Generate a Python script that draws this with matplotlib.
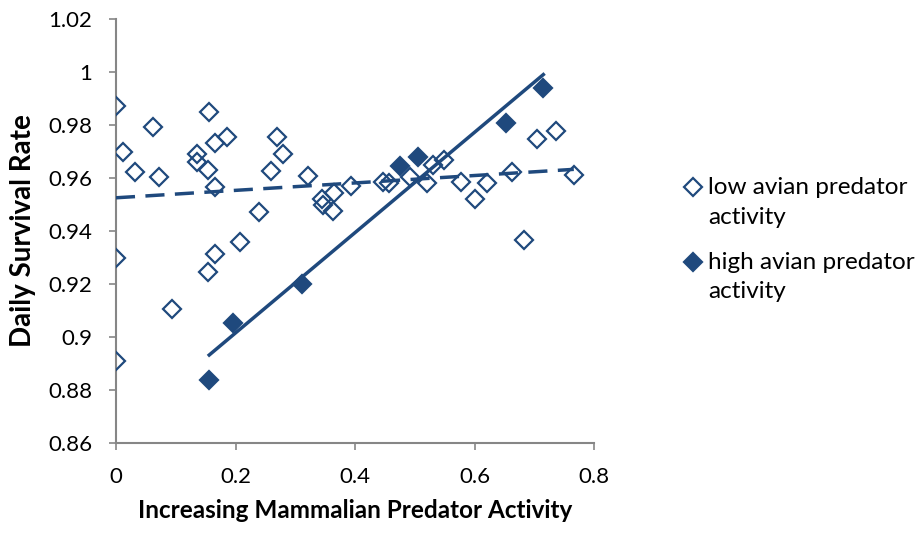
import numpy as np
import matplotlib
matplotlib.use("Agg")
import matplotlib.pyplot as plt

# low avian predator activity (hollow diamonds)
low_x = [0, 0.011, 0.032, 0.062, 0.072, 0.093, 0, 0, 0.135, 0.135,
         0.156, 0.154, 0.166, 0.166, 0.186, 0.154, 0.166, 0.2075, 0.239, 0.259,
         0.269, 0.28, 0.322, 0.344, 0.347, 0.364, 0.363, 0.394, 0.447, 0.456,
         0.492, 0.52, 0.531, 0.548, 0.578, 0.60, 0.62, 0.663, 0.683, 0.704,
         0.736, 0.766]
low_y = [0.987, 0.970, 0.9624, 0.9794, 0.9603, 0.9105, 0.930, 0.891, 0.969, 0.9662,
         0.9848, 0.963, 0.9733, 0.9567, 0.9754, 0.9246, 0.9312, 0.936, 0.947, 0.9628,
         0.9754, 0.969, 0.9609, 0.952, 0.9498, 0.9542, 0.9477, 0.957, 0.9586, 0.958,
         0.9605, 0.958, 0.965, 0.9668, 0.9586, 0.952, 0.958, 0.9624, 0.9366, 0.9746,
         0.9777, 0.9611]

# high avian predator activity (filled diamonds)
high_x = [0.156, 0.196, 0.311, 0.475, 0.506, 0.653, 0.715]
high_y = [0.8838, 0.9052, 0.920, 0.9645, 0.968, 0.9806, 0.9938]

labels = ["low avian predator\nactivity", "high avian predator\nactivity"]
xticks = [0, 0.2, 0.4, 0.6, 0.8]
xtick_labels = ["0", "0.2", "0.4", "0.6", "0.8"]
yticks = [0.86, 0.88, 0.9, 0.92, 0.94, 0.96, 0.98, 1.0, 1.02]
ytick_labels = ["0.86", "0.88", "0.9", "0.92", "0.94", "0.96", "0.98", "1", "1.02"]

blue = "#1F497D"
grey = "#868686"
plt.rcParams['font.family'] = ['Lato', 'DejaVu Sans']

fig = plt.figure(figsize=(9.24, 5.34), dpi=100)
ax = fig.add_axes([0.1255, 0.1704, 0.5175, 0.794])

ax.plot(low_x, low_y, linestyle="none", marker="D", ms=9.3, mfc="none",
        mec=blue, mew=1.6, label=labels[0], zorder=3)
ax.plot(high_x, high_y, linestyle="none", marker="D", ms=9.3, mfc=blue,
        mec=blue, mew=1.6, label=labels[1], zorder=3)

# linear trend lines
a, b = np.polyfit(low_x, low_y, 1)
xx = np.array([min(low_x), max(low_x)])
ax.plot(xx, a * xx + b, color=blue, lw=2.5, dashes=(5.5, 3), zorder=4)
a, b = np.polyfit(high_x, high_y, 1)
xx = np.array([min(high_x), max(high_x)])
ax.plot(xx, a * xx + b, color=blue, lw=2.5, zorder=4)

ax.set_xlim(0, 0.8)
ax.set_ylim(0.86, 1.02)
ax.set_xticks(xticks)
ax.set_xticklabels(xtick_labels)
ax.set_yticks(yticks)
ax.set_yticklabels(ytick_labels)
ax.tick_params(direction="out", length=5, width=1.2, color=grey,
               labelsize=16)
ax.tick_params(axis="x", pad=12)
ax.tick_params(axis="y", pad=12)
for s in ["top", "right"]:
    ax.spines[s].set_visible(False)
for s in ["left", "bottom"]:
    ax.spines[s].set_color(grey)
    ax.spines[s].set_linewidth(1.5)

ax.set_xlabel("Increasing Mammalian Predator Activity", fontsize=17.5,
              fontweight="bold", labelpad=9)
ax.set_ylabel("Daily Survival Rate", fontsize=20, fontweight="bold",
              labelpad=9)

leg = fig.legend(loc="center left", bbox_to_anchor=(0.739, 0.551), frameon=False,
                 fontsize=17.5, handlelength=0.8, handletextpad=0.25,
                 labelspacing=1.0, borderpad=0, borderaxespad=0, markerscale=0.95)
for t in leg.get_texts():
    t.set_linespacing(1.5)
# legend markers sit on the first text line, like Excel
for h in leg.legend_handles:
    h.set_ydata(np.asarray(h.get_ydata()) + 11)

fig.savefig("out.png", dpi=100)
